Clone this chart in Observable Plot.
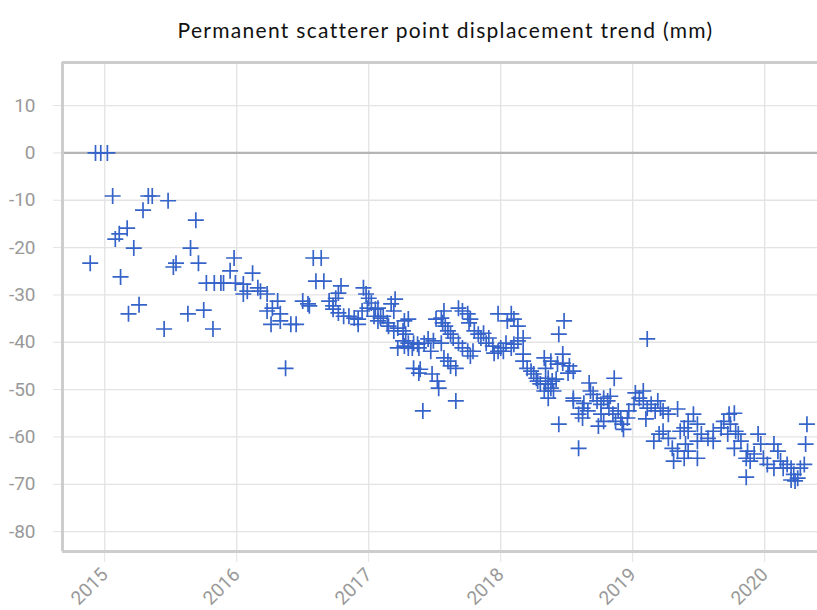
<!DOCTYPE html>
<html>
<head>
<meta charset="utf-8">
<script src="https://cdn.jsdelivr.net/npm/d3@7"></script>
<script src="https://cdn.jsdelivr.net/npm/@observablehq/plot@0.6"></script>
<style>
  html, body { margin: 0; padding: 0; background: #fff; overflow: hidden; }
  #title { box-sizing: border-box; height: 50px; padding: 17px 0 0 74px; width: 817px;
           text-align: center; font-family: "Lato", sans-serif; font-size: 21px; letter-spacing: 1.3px; line-height: 26px; color: #111; }
  #chart svg { display: block; }
</style>
</head>
<body>
<div id="title">Permanent scatterer point displacement trend (mm)</div>
<div id="chart"></div>
<script>
const title = "Permanent scatterer point displacement trend (mm)";
const xTicks = [2015, 2016, 2017, 2018, 2019, 2020];
const yTicks = [10, 0, -10, -20, -30, -40, -50, -60, -70, -80];
const xDomain = [2014.68, 2020.40];
const yDomain = [-84.2, 19.1];

// acquisition date (decimal year)
const dates = [
  2014.89, 2014.93, 2014.97, 2015.02, 2015.06, 2015.08, 2015.11, 2015.12, 2015.17, 2015.18,
  2015.22, 2015.26, 2015.29, 2015.33, 2015.36, 2015.45, 2015.48, 2015.52, 2015.54, 2015.63,
  2015.65, 2015.69, 2015.71, 2015.75, 2015.77, 2015.82, 2015.83, 2015.88, 2015.90, 2015.95,
  2015.98, 2015.99, 2016.05, 2016.05, 2016.08, 2016.12, 2016.16, 2016.18, 2016.23, 2016.23,
  2016.26, 2016.27, 2016.31, 2016.33, 2016.33, 2016.37, 2016.41, 2016.45, 2016.50, 2016.54,
  2016.55, 2016.58, 2016.64, 2016.60, 2016.66, 2016.75, 2016.77, 2016.79, 2016.70, 2016.73,
  2016.73, 2016.77, 2016.81, 2016.85, 2016.89, 2016.92, 2016.92, 2016.95, 2016.96, 2016.98,
  2016.99, 2017.00, 2017.02, 2017.04, 2017.05, 2017.07, 2017.07, 2017.09, 2017.11, 2017.14,
  2017.17, 2017.19, 2017.20, 2017.19, 2017.15, 2017.22, 2017.26, 2017.28, 2017.27, 2017.30,
  2017.22, 2017.26, 2017.27, 2017.30, 2017.30, 2017.33, 2017.34, 2017.37, 2017.38, 2017.42,
  2017.45, 2017.47, 2017.49, 2017.55, 2017.34, 2017.38, 2017.39, 2017.41, 2017.48, 2017.52,
  2017.53, 2017.66, 2017.51, 2017.55, 2017.56, 2017.58, 2017.60, 2017.62, 2017.57, 2017.68,
  2017.71, 2017.75, 2017.77, 2017.76, 2017.57, 2017.60, 2017.62, 2017.66, 2017.64, 2017.68,
  2017.71, 2017.75, 2017.77, 2017.79, 2017.80, 2017.83, 2017.85, 2017.87, 2017.89, 2017.91,
  2017.94, 2017.95, 2017.98, 2018.00, 2018.02, 2018.04, 2017.98, 2018.05, 2018.08, 2018.10,
  2018.13, 2018.08, 2018.10, 2018.13, 2018.17, 2018.17, 2018.17, 2018.20, 2018.23, 2018.25,
  2018.27, 2018.28, 2018.30, 2018.33, 2018.36, 2018.38, 2018.39, 2018.42, 2018.36, 2018.33,
  2018.38, 2018.43, 2018.47, 2018.44, 2018.48, 2018.44, 2018.34, 2018.36, 2018.40, 2018.34,
  2018.47, 2018.52, 2018.55, 2018.51, 2018.59, 2018.67, 2018.68, 2018.70, 2018.55, 2018.55,
  2018.63, 2018.62, 2018.59, 2018.62, 2018.66, 2018.73, 2018.76, 2018.78, 2018.81, 2018.83,
  2018.82, 2018.76, 2018.78, 2018.74, 2018.85, 2018.89, 2018.91, 2018.92, 2018.93, 2018.87,
  2018.86, 2018.96, 2018.97, 2019.01, 2019.02, 2019.05, 2019.08, 2019.08, 2019.11, 2019.14,
  2019.10, 2019.17, 2019.19, 2019.21, 2019.23, 2019.27, 2019.34, 2019.11, 2019.16, 2019.20,
  2019.23, 2019.27, 2019.30, 2019.31, 2019.34, 2019.36, 2019.39, 2019.42, 2019.40, 2019.42,
  2019.39, 2019.42, 2019.46, 2019.49, 2019.52, 2019.49, 2019.49, 2019.57, 2019.61, 2019.61,
  2019.67, 2019.69, 2019.73, 2019.77, 2019.74, 2019.72, 2019.78, 2019.80, 2019.82, 2019.77,
  2019.87, 2019.86, 2019.89, 2019.95, 2019.97, 2019.92, 2019.99, 2020.07, 2020.10, 2020.02,
  2020.07, 2020.12, 2020.14, 2020.17, 2020.20, 2020.22, 2020.25, 2020.23, 2020.27, 2020.30,
  2020.31, 2020.32, 2019.86, 2020.20
];

// displacement (mm)
const displacement = [
  -23.3, 0, 0, 0, -9.1, -18.2, -17.1, -26.2, -15.9, -34.0,
  -20.1, -32.1, -12.1, -9.1, -9.1, -37.2, -10.1, -24.1, -23.3, -34.0,
  -20.1, -14.2, -23.3, -33.2, -27.5, -37.2, -27.5, -27.5, -27.5, -24.9,
  -22.2, -27.5, -27.7, -29.8, -29.2, -25.4, -28.5, -29.2, -29.8, -33.4,
  -36.2, -32.8, -31.3, -34.0, -35.5, -45.5, -36.2, -36.2, -31.3, -31.9,
  -32.3, -22.2, -22.2, -27.1, -27.1, -30.7, -29.6, -28.1, -31.3, -32.3,
  -33.0, -33.8, -34.5, -34.5, -34.9, -35.1, -36.2, -33.4, -28.5, -29.8,
  -32.8, -30.7, -31.7, -34.5, -33.0, -35.5, -32.8, -34.9, -34.5, -35.9,
  -31.9, -33.4, -30.9, -37.6, -36.6, -37.0, -37.6, -38.3, -35.5, -35.1,
  -41.2, -39.7, -40.8, -40.2, -41.2, -41.2, -40.2, -40.4, -41.2, -40.2,
  -39.3, -41.9, -39.7, -40.2, -45.5, -46.5, -45.7, -54.5, -46.7, -48.2,
  -49.7, -52.4, -35.1, -34.9, -35.9, -36.6, -37.6, -38.3, -33.4, -32.8,
  -33.4, -34.0, -35.1, -35.9, -43.3, -44.0, -45.0, -45.5, -39.1, -40.2,
  -41.2, -41.9, -42.9, -41.9, -37.6, -38.3, -39.1, -38.1, -40.2, -39.1,
  -40.8, -42.3, -41.9, -41.2, -41.9, -40.2, -34.0, -35.5, -34.0, -35.1,
  -36.6, -41.2, -40.4, -39.7, -39.1, -42.5, -44.0, -45.5, -46.1, -46.7,
  -47.6, -48.2, -48.8, -50.3, -48.8, -49.7, -48.2, -47.8, -51.8, -43.3,
  -44.0, -44.6, -42.5, -38.3, -35.5, -57.3, -45.5, -47.6, -50.3, -48.8,
  -44.4, -45.0, -46.1, -46.5, -62.4, -48.6, -50.3, -51.0, -51.8, -52.4,
  -52.9, -53.9, -55.2, -56.0, -54.5, -52.4, -53.1, -51.8, -52.4, -51.4,
  -53.9, -55.2, -56.7, -57.7, -55.2, -54.5, -56.0, -57.3, -58.4, -56.7,
  -47.6, -56.0, -54.5, -53.1, -50.7, -51.8, -50.3, -52.4, -53.9, -53.1,
  -56.2, -54.5, -52.4, -53.9, -54.5, -55.2, -54.1, -39.3, -60.9, -59.4,
  -58.8, -60.3, -62.4, -65.1, -63.0, -58.8, -58.1, -58.8, -61.5, -63.0,
  -64.5, -56.7, -55.2, -57.3, -59.4, -60.9, -64.5, -60.3, -60.9, -58.8,
  -58.1, -56.7, -55.2, -55.0, -57.3, -59.4, -58.8, -59.4, -60.9, -62.4,
  -63.0, -64.5, -65.1, -59.4, -61.5, -63.6, -64.5, -61.5, -63.0, -65.8,
  -66.6, -65.1, -66.6, -65.8, -66.6, -67.9, -68.7, -69.3, -66.6, -65.8,
  -61.5, -57.3, -68.5, -69.1
];

const data = dates.map((d, i) => ({date: d, value: displacement[i]}));

const plusSymbol = {
  draw(context, size) {
    const r = Math.sqrt(size / Math.PI);
    context.moveTo(-r, 0); context.lineTo(r, 0);
    context.moveTo(0, -r); context.lineTo(0, r);
  }
};

const chart = Plot.plot({
  width: 817,
  height: 560,
  marginTop: 12,
  marginBottom: 59,
  marginLeft: 62,
  marginRight: 0,
  style: {fontFamily: "Roboto, sans-serif", fontSize: "19px", color: "#9a9a9a", background: "#fff", overflow: "visible"},
  x: {domain: xDomain, label: null},
  y: {domain: yDomain, label: null},
  marks: [
    Plot.ruleX(xTicks, {y1: yDomain[0], y2: yDomain[1], stroke: "#e3e3e3", strokeWidth: 1.3}),
    Plot.ruleY(yTicks, {stroke: "#e3e3e3", strokeWidth: 1.3}),
    Plot.axisY({ticks: yTicks, tickSize: 9, tickPadding: 18, stroke: "#e3e3e3", fill: "#999", tickFormat: d => String(d), label: null}),
    Plot.axisX({ticks: xTicks, tickSize: 11, tickPadding: 9, tickRotate: -45, stroke: "#e3e3e3", fill: "#999", tickFormat: d => String(d), label: null}),
    Plot.ruleY([0], {stroke: "#b5b5b5", strokeWidth: 2.2}),
    Plot.ruleX([xDomain[0]], {stroke: "#cdcdcd", strokeWidth: 3}),
    Plot.ruleY([yDomain[0], yDomain[1]], {stroke: "#cdcdcd", strokeWidth: 3}),
    Plot.dot(data, {x: "date", y: "value", symbol: plusSymbol, r: 8, stroke: "#3563c9", strokeWidth: 1.7, fill: "none"})
  ]
});
document.getElementById("chart").appendChild(chart);
</script>
</body>
</html>
